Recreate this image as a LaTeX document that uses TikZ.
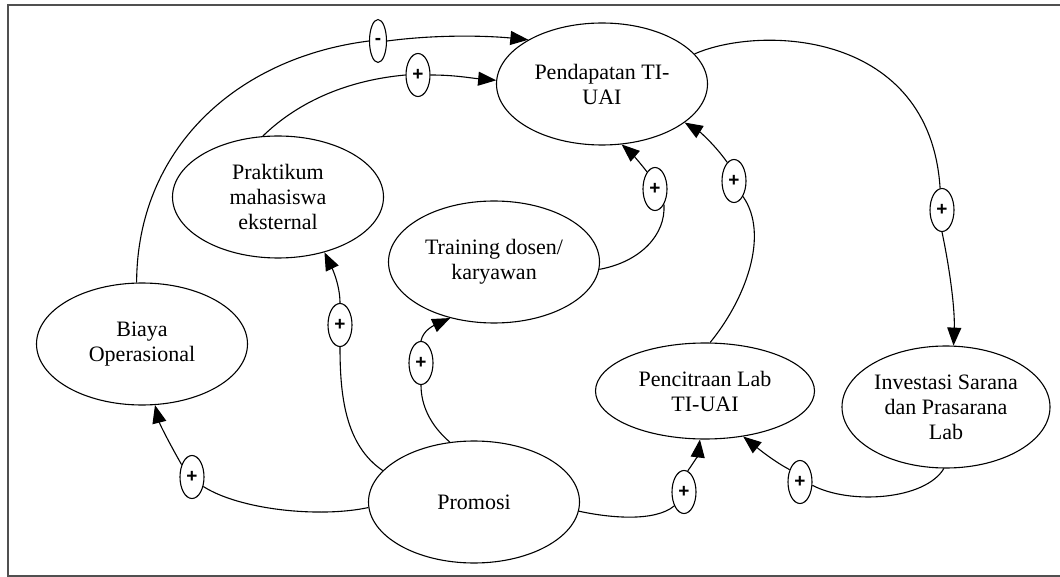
\documentclass[tikz,border=0pt]{standalone}
\usepackage{fontspec}
\setmainfont{Liberation Serif}
\newfontfamily\signfont{Liberation Sans}
\usetikzlibrary{shapes.geometric,arrows.meta}
\begin{document}
\begin{tikzpicture}[x=1pt,y=-1pt,
  var/.style={draw,ellipse,line width=1.1pt,inner sep=0pt,minimum width=211pt,minimum height=122pt,align=center,font=\fontsize{22}{25}\selectfont},
  sign/.style={draw,ellipse,line width=1.1pt,inner sep=0pt,minimum width=24pt,minimum height=43pt,fill=white,font=\signfont\bfseries\fontsize{19}{19}\selectfont},
  link/.style={line width=1.1pt},
  arr/.style={line width=1.1pt,-{Triangle[length=18pt,width=14pt]}},
  frameline/.style={draw={rgb,255:red,80;green,80;blue,80},line width=2pt}]
\useasboundingbox (0,0) rectangle (1060,577);
\draw[frameline] (1075,5) -- (8,5) -- (8,576) -- (1075,576);

% variables
\node[var] (pend) at (602,84) {Pendapatan TI-\\UAI};
\node[var] (prak) at (278,197) {Praktikum\\mahasiswa\\eksternal};
\node[var] (train) at (494,262) {Training dosen/\\karyawan};
\node[var] (bia) at (142,344) {Biaya\\Operasional};
\node[var] (pro) at (474,502) {Promosi};
\node[var,minimum width=219pt,minimum height=96pt] (pen) at (705,391) {Pencitraan Lab\\TI-UAI};
\node[var,minimum width=208pt] (inv) at (946,407) {Investasi Sarana\\dan Prasarana\\Lab};

% polarity markers
\node[sign,minimum width=17pt] (m1) at (378,41) {-};
\node[sign] (m2) at (418,75) {+};
\node[sign] (m3) at (655,189) {+};
\node[sign] (m4) at (734,181) {+};
\node[sign] (m5) at (942,210) {+};
\node[sign] (m6) at (800,482) {+};
\node[sign] (m7) at (684,492) {+};
\node[sign] (m8) at (192,477) {+};
\node[sign] (m9) at (340,325) {+};
\node[sign] (m10) at (421,363) {+};

% Biaya -> Pendapatan (-)
\draw[link] (bia.95) .. controls (137,150) and (235,58) .. (m1.west);
\draw[arr] (m1.east) .. controls (440,34) and (490,36) .. (pend.149);
% Praktikum -> Pendapatan (+)
\draw[link] (prak.104) .. controls (300,100) and (350,80) .. (m2.west);
\draw[arr] (m2.east) .. controls (455,75) and (470,78) .. (pend.178);
% Training -> Pendapatan (+)
\draw[link] (train.-4) .. controls (640,262) and (666,235) .. (m3.-60);
\draw[arr] (m3.115) .. controls (638,160) and (628,150) .. (pend.-72);
% Pencitraan -> Pendapatan (+)
\draw[link] (pen.84) .. controls (745,300) and (770,235) .. (m4.-60);
\draw[arr] (m4.110) .. controls (715,145) and (700,132) .. (pend.-25);
% Pendapatan -> Investasi (+)
\draw[link] (pend.18) .. controls (760,25) and (930,30) .. (m5.95);
\draw[arr] (m5.south) .. controls (950,270) and (955,310) .. (inv.83);
% Investasi -> Pencitraan (+)
\draw[link] (inv.-92) .. controls (925,500) and (850,505) .. (m6.-15);
\draw[arr] (m6.130) .. controls (775,462) and (760,450) .. (pen.-50);
% Promosi -> Pencitraan (+)
\draw[link] (pro.-5) .. controls (610,518) and (655,522) .. (m7.-125);
\draw[arr] (m7.80) .. controls (694,462) and (698,455) .. (pen.-96);
% Promosi -> Biaya (+)
\draw[link] (pro.183) .. controls (320,518) and (240,510) .. (m8.-40);
\draw[arr] (m8.130) .. controls (172,448) and (160,425) .. (bia.-78);
% Promosi -> Praktikum (+)
\draw[link] (pro.161) .. controls (345,445) and (340,395) .. (m9.south);
\draw[arr] (m9.north) .. controls (340,285) and (332,268) .. (prak.-50);
% Promosi -> Training (+)
\draw[link] (pro.112) .. controls (430,425) and (421,405) .. (m10.south);
\draw[arr] (m10.north) .. controls (423,330) and (435,325) .. (train.-128);
\end{tikzpicture}
\end{document}
